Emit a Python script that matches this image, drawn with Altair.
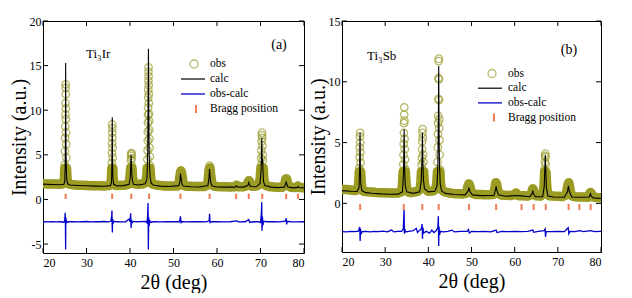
import altair as alt
import pandas as pd

# ---------------- Panel (a): Ti3Ir ----------------
a_obs_x = [20.0, 21.0, 22.0, 23.0, 24.0, 24.6, 24.85,
           24.95, 25.0, 25.05, 25.08, 25.11, 25.14, 25.17, 25.19, 25.21, 25.23, 25.25, 25.27, 25.3, 25.33, 25.37, 25.42, 25.5, 25.65, 25.9,
           26.5, 27.0, 28.0, 29.0, 30.0, 31.0, 32.0, 33.0, 34.0, 35.0, 35.5, 35.7,
           35.78, 35.82, 35.85, 35.88, 35.9, 35.92, 35.94, 35.96, 35.99, 36.02, 36.06, 36.12, 36.3, 36.6,
           37.0, 38.0, 39.0, 39.6, 39.9, 40.05, 40.15, 40.2, 40.25, 40.3, 40.35, 40.4, 40.45, 40.5, 40.6, 40.75, 41.0, 42.0, 43.0, 43.6, 43.85,
           43.95, 44.0, 44.05, 44.08, 44.1, 44.12, 44.14, 44.16, 44.18, 44.2, 44.22, 44.24, 44.26, 44.28, 44.3, 44.32, 44.34, 44.37, 44.4, 44.43, 44.47, 44.5, 44.55, 44.6, 44.7, 44.85, 45.1,
           46.0, 47.0, 48.0, 49.0, 50.0, 51.0, 51.3, 51.45, 51.6, 51.72, 51.85, 52.0, 52.2, 52.5, 53.0, 54.0, 55.0, 56.0, 57.0,
           57.8, 58.0, 58.15, 58.3, 58.4, 58.5, 58.65, 58.85, 59.3, 60.0, 61.0, 62.0, 63.0, 64.0, 64.3, 64.5, 64.7, 65.0, 66.0,
           66.9, 67.15, 67.35, 67.55, 67.8, 68.0, 69.0, 69.6, 69.9, 70.0, 70.1, 70.15, 70.2, 70.25, 70.3, 70.35, 70.4, 70.45, 70.5, 70.55, 70.62, 70.72, 70.85, 71.1,
           72.0, 73.0, 74.0, 75.0, 75.5, 75.7, 75.85, 76.0, 76.15, 76.35, 77.0, 78.0, 78.4, 78.6, 78.8, 79.0, 80.0]
a_obs_y = [1.75, 1.74, 1.72, 1.72, 1.70, 1.75, 2.2,
           2.6, 3.9, 5.4, 6.9, 8.2, 9.5, 10.8, 12.5, 12.9, 11.8, 10.2, 9.0, 7.5, 6.2, 4.7, 3.4, 2.5, 2.0, 1.75,
           1.68, 1.65, 1.6, 1.58, 1.56, 1.55, 1.55, 1.53, 1.52, 1.55, 1.6, 2.1,
           3.0, 4.1, 5.2, 6.3, 7.5, 8.4, 8.0, 6.9, 5.8, 4.7, 3.5, 2.4, 1.8, 1.6,
           1.57, 1.58, 1.62, 1.7, 2.1, 2.8, 3.6, 4.4, 4.9, 5.2, 5.1, 4.6, 3.8, 3.2, 2.5, 2.0, 1.75, 1.7, 1.75, 1.9, 2.6,
           3.5, 4.5, 5.5, 6.6, 7.6, 8.6, 9.5, 10.3, 11.4, 12.3, 13.3, 14.3, 14.8, 13.8, 12.8, 11.8, 10.8, 9.6, 8.8, 7.8, 6.8, 5.8, 4.8, 3.8, 2.8, 2.1, 1.75,
           1.62, 1.56, 1.52, 1.5, 1.5, 1.52, 1.9, 2.5, 3.0, 3.2, 3.0, 2.5, 1.9, 1.55, 1.48, 1.47, 1.46, 1.45, 1.45,
           1.6, 2.3, 3.2, 3.8, 3.6, 3.0, 2.3, 1.75, 1.5, 1.45, 1.43, 1.42, 1.41, 1.42, 1.5, 1.6, 1.5, 1.42, 1.42,
           1.55, 1.95, 2.1, 1.95, 1.6, 1.48, 1.5, 1.65, 2.2, 2.9, 3.8, 4.6, 5.5, 6.5, 7.2, 7.5, 6.9, 6.0, 5.0, 4.4, 3.5, 2.6, 2.0, 1.6,
           1.45, 1.4, 1.37, 1.36, 1.55, 2.0, 2.3, 2.3, 2.0, 1.6, 1.36, 1.34, 1.4, 1.5, 1.4, 1.33, 1.3]

a_calc_x = [20, 22, 24, 24.8, 25.0, 25.1, 25.17, 25.21, 25.25, 25.3, 25.38, 25.5, 25.7, 26.2, 28, 30, 32, 34,
            35.5, 35.75, 35.84, 35.92, 35.98, 36.06, 36.25, 37, 38.5, 39.8, 40.05, 40.18, 40.25, 40.33, 40.42, 40.55, 40.8, 42,
            43.5, 43.9, 44.08, 44.18, 44.24, 44.3, 44.36, 44.42, 44.5, 44.65, 44.9, 45.5, 47, 49,
            51.2, 51.45, 51.6, 51.75, 51.95, 52.3, 54, 56, 57.9, 58.15, 58.28, 58.4, 58.55, 58.9, 60, 62,
            64.2, 64.45, 64.7, 66, 67.1, 67.3, 67.45, 67.7, 69, 69.9, 70.15, 70.3, 70.4, 70.5, 70.58, 70.7, 71.0,
            72.5, 74, 75.5, 75.8, 75.92, 76.05, 76.3, 77.5, 78.5, 78.65, 78.8, 80]
a_calc_y = [1.72, 1.68, 1.65, 1.7, 2.0, 3.5, 8.5, 15.3, 9.0, 5.0, 3.0, 2.1, 1.75, 1.62, 1.57, 1.53, 1.5, 1.48,
            1.55, 1.9, 4.0, 9.2, 4.5, 2.4, 1.7, 1.52, 1.55, 1.7, 2.4, 4.0, 5.0, 3.9, 2.8, 2.1, 1.7, 1.62,
            1.75, 2.3, 5.5, 12.0, 16.9, 11.0, 7.0, 5.0, 3.5, 2.4, 1.8, 1.6, 1.5, 1.45,
            1.55, 1.9, 2.9, 2.4, 1.7, 1.5, 1.42, 1.4, 1.55, 2.3, 3.4, 2.6, 1.9, 1.5, 1.4, 1.38,
            1.38, 1.52, 1.4, 1.38, 1.55, 1.9, 1.7, 1.45, 1.42, 1.8, 3.5, 6.9, 4.0, 4.6, 3.0, 2.0, 1.55,
            1.38, 1.33, 1.38, 1.8, 2.0, 1.7, 1.4, 1.3, 1.35, 1.45, 1.34, 1.28]

a_diff_x = [20, 21, 22, 23, 24, 24.8, 25.0, 25.1, 25.15, 25.2, 25.25, 25.3, 25.4, 25.6, 26, 27, 28, 29, 30, 31, 32, 33, 34, 35,
            35.6, 35.8, 35.85, 35.9, 35.95, 36.0, 36.1, 36.3, 37, 38, 39, 39.5, 39.8, 40.0, 40.15, 40.25, 40.35, 40.5, 40.8,
            41.5, 42.5, 43.5, 43.9, 44.05, 44.15, 44.22, 44.3, 44.4, 44.5, 44.7, 45.5, 47, 48.5, 50,
            51.4, 51.6, 51.75, 52, 53, 54.5, 56, 57.5, 58.2, 58.3, 58.4, 58.7, 60, 61.5, 63, 64.5, 65, 66.5, 67.3, 67.5,
            68.5, 69.5, 70.0, 70.2, 70.28, 70.35, 70.45, 70.55, 70.7, 71.5, 73, 74.5, 75.8, 75.9, 76.0, 76.15, 77, 78.5, 80]
a_diff_y = [-2.5, -2.52, -2.48, -2.52, -2.5, -2.55, -2.3, -1.5, -2.6, -5.6, -2.0, -2.7, -2.4, -2.55, -2.5, -2.48, -2.52, -2.5, -2.47, -2.52, -2.5, -2.5, -2.47, -2.52,
            -2.45, -1.8, -1.25, -2.8, -3.7, -2.2, -2.7, -2.45, -2.5, -2.52, -2.5, -2.3, -2.2, -2.5, -1.55, -3.2, -2.3, -2.6, -2.45,
            -2.5, -2.48, -2.45, -2.6, -1.9, -0.4, -5.6, -2.0, -3.0, -2.3, -2.55, -2.5, -2.52, -2.5, -2.48,
            -2.5, -1.9, -2.6, -2.5, -2.52, -2.5, -2.48, -2.52, -2.4, -1.6, -2.6, -2.5, -2.5, -2.52, -2.5, -2.4, -2.52, -2.5, -2.25, -2.55,
            -2.5, -2.5, -2.6, -1.6, -0.3, -3.5, -1.9, -2.9, -2.45, -2.5, -2.5, -2.52, -2.4, -2.1, -2.8, -2.45, -2.5, -2.52, -2.5]

a_bragg = [25.2, 35.9, 40.3, 44.4, 51.6, 58.3, 64.4, 67.3, 70.4, 75.9, 78.6]

# ---------------- Panel (b): Ti3Sb ----------------
b_obs_x = [20, 21, 22, 23, 23.6, 23.85,
           23.95, 24.0, 24.05, 24.1, 24.15, 24.2, 24.23, 24.27, 24.3, 24.35, 24.42, 24.6,
           25, 26, 27, 28, 29, 30, 31, 32, 33, 33.8,
           34.0, 34.12, 34.2, 34.25, 34.3, 34.34, 34.37, 34.4, 34.43, 34.46, 34.5, 34.55, 34.6, 34.68, 34.8, 35.0,
           35.5, 36, 37, 37.6, 38.1, 38.3, 38.4, 38.45, 38.5, 38.55, 38.6, 38.64, 38.68, 38.72, 38.78, 38.85, 38.92, 39.05, 39.3,
           40, 41, 41.7, 41.95,
           42.05, 42.12, 42.18, 42.22, 42.26, 42.3, 42.33, 42.36, 42.39, 42.42, 42.45, 42.48, 42.51, 42.54, 42.58, 42.62, 42.68, 42.78, 43.0,
           43.5, 44, 45, 46, 47, 48, 48.8, 49.05, 49.25, 49.4, 49.55, 49.75, 50.0, 51, 52, 53, 54, 55,
           55.3, 55.5, 55.65, 55.8, 56.0, 56.3, 57, 58, 59, 60.0, 60.3, 60.6, 61, 62, 63, 63.8, 64.05, 64.2, 64.35, 64.6, 65, 66,
           66.6, 66.8, 66.9, 66.95, 67.0, 67.05, 67.1, 67.15, 67.2, 67.27, 67.35, 67.5, 67.8, 68, 69, 70, 71,
           71.9, 72.2, 72.4, 72.55, 72.7, 72.9, 73.3, 74, 75, 76, 77, 77.35, 77.55, 77.75, 78.0, 79, 80]
b_obs_y = [1.15, 1.15, 1.1, 1.05, 1.1, 1.6,
           2.1, 2.9, 3.8, 4.6, 5.5, 5.8, 5.0, 4.2, 3.35, 2.5, 1.8, 1.2,
           1.0, 0.95, 0.93, 0.9, 0.88, 0.87, 0.86, 0.85, 0.86, 0.95,
           1.5, 2.4, 3.2, 4.0, 4.9, 5.8, 6.6, 7.3, 7.9, 6.8, 5.3, 4.45, 3.6, 2.8, 1.8, 1.1,
           0.92, 0.9, 0.95, 1.0, 1.2, 1.8, 2.6, 3.2, 3.75, 4.45, 5.1, 5.8, 6.1, 5.4, 4.0, 3.4, 2.6, 1.8, 1.2,
           1.0, 1.02, 1.15, 1.6,
           2.2, 3.4, 4.6, 5.7, 6.6, 7.2, 8.6, 10.3, 11.7, 11.9, 10.2, 8.5, 6.9, 6.2, 5.2, 4.0, 2.8, 1.8, 1.2,
           1.0, 0.92, 0.85, 0.8, 0.8, 0.78, 0.85, 1.2, 1.5, 1.6, 1.5, 1.2, 0.85, 0.73, 0.72, 0.7, 0.7, 0.72,
           0.95, 1.4, 1.7, 1.6, 1.2, 0.8, 0.68, 0.66, 0.65, 0.72, 0.85, 0.72, 0.63, 0.62, 0.6, 0.7, 1.0, 1.2, 1.1, 0.75, 0.62, 0.6,
           0.8, 1.4, 2.2, 2.8, 3.4, 3.9, 4.1, 3.8, 3.2, 2.5, 1.8, 1.1, 0.7, 0.63, 0.6, 0.58, 0.56,
           0.7, 1.2, 1.6, 1.7, 1.4, 0.95, 0.62, 0.55, 0.53, 0.52, 0.5, 0.7, 0.9, 0.82, 0.55, 0.48, 0.46]

b_calc_x = [20, 22, 23.5, 23.95, 24.08, 24.18, 24.25, 24.35, 24.6, 25.5, 27, 29, 31, 33,
            34.0, 34.25, 34.4, 34.5, 34.65, 35, 36.5, 38.0, 38.35, 38.55, 38.63, 38.72, 38.85, 39.1, 40, 41.5,
            42.0, 42.2, 42.32, 42.4, 42.48, 42.58, 42.75, 43.1, 44, 46, 48.5, 49.2, 49.4, 49.6, 50.2, 52,
            55.2, 55.55, 55.7, 55.85, 56.3, 58, 60.3, 61.6, 63.5, 64.05, 64.2, 64.35, 64.8, 66.5,
            66.85, 67.0, 67.1, 67.2, 67.35, 67.7, 69, 71.5, 72.25, 72.45, 72.65, 73.2, 75.0, 77.3, 77.55, 77.75, 78.2, 80]
b_calc_y = [1.05, 1.0, 0.98, 1.3, 2.8, 5.8, 3.0, 1.6, 1.05, 0.88, 0.83, 0.78, 0.75, 0.76,
            0.95, 2.5, 6.1, 3.0, 1.5, 0.95, 0.82, 0.95, 1.8, 3.8, 5.8, 3.7, 2.0, 1.2, 0.95, 1.0,
            1.4, 3.0, 6.5, 11.3, 6.0, 3.2, 1.6, 1.0, 0.82, 0.73, 0.7, 1.0, 1.3, 1.0, 0.7, 0.64,
            0.66, 1.1, 1.4, 1.1, 0.68, 0.58, 0.65, 0.62, 0.55, 0.8, 1.05, 0.8, 0.55, 0.55,
            1.4, 3.0, 4.0, 2.8, 1.3, 0.6, 0.52, 0.5, 0.95, 1.45, 1.0, 0.52, 0.5, 0.52, 0.78, 0.6, 0.45, 0.4]

b_diff_x = [20, 21, 22, 23, 23.8, 24.05, 24.12, 24.2, 24.3, 24.4, 24.7, 25.5, 26.5, 27.5, 28.5, 29.5, 30.5, 31.5, 32, 33, 33.8,
            34.2, 34.38, 34.45, 34.55, 34.7, 35.5, 36.5, 37.2, 37.5, 38.0, 38.4, 38.55, 38.65, 38.75, 38.9, 39.5, 40.3, 40.8, 41.3, 41.8,
            42.2, 42.32, 42.4, 42.48, 42.58, 42.8, 43.5, 44.5, 45.5, 46, 47.5, 49.0, 49.3, 49.5, 50, 51.5, 53, 54.5, 55.7, 55.9, 57,
            58.5, 60, 61.5, 63, 64.2, 64.4, 65.5, 66.8, 67.05, 67.15, 67.3, 68.5, 70, 71.5, 72.4, 72.55, 72.8, 74, 75, 76, 77.6, 78.5, 80]
b_diff_y = [-2.32, -2.35, -2.3, -2.33, -2.28, -2.0, -1.95, -3.1, -2.1, -2.5, -2.32, -2.3, -2.35, -2.3, -2.33, -2.28, -2.35, -2.2, -2.35, -2.3, -2.3,
            -2.1, -0.5, -2.5, -2.1, -2.35, -2.3, -2.25, -2.05, -2.4, -2.2, -2.1, -1.7, -2.9, -2.0, -2.45, -2.3, -2.45, -2.2, -2.4, -2.25,
            -2.0, -1.05, -3.5, -1.9, -2.6, -2.3, -2.35, -2.3, -2.2, -2.35, -2.3, -2.3, -2.15, -2.45, -2.3, -2.33, -2.3, -2.35, -2.2, -2.4, -2.3,
            -2.33, -2.3, -2.32, -2.3, -2.2, -2.38, -2.3, -2.25, -2.1, -2.75, -2.3, -2.32, -2.3, -2.33, -2.0, -2.5, -2.3, -2.32, -2.25, -2.33, -2.25, -2.32, -2.3]

b_bragg = [24.2, 34.3, 38.6, 42.4, 49.4, 55.7, 61.6, 64.4, 67.2, 72.5, 75.0, 77.6]

X_TICKS = [20, 30, 40, 50, 60, 70, 80]
A_Y_TICKS = [-5, 0, 5, 10, 15, 20]
B_Y_TICKS = [0, 5, 10, 15]
LEGEND_LABELS = ["obs", "calc", "obs-calc", "Bragg position"]

FONT = "Liberation Serif"
OLIVE_BAND = "#9b9b1a"
OLIVE_PT = "#9c9c2e"
BRAGG_C = "#f07d55"
BLUE = "#0000cc"


def panel(obs_x, obs_y, calc_x, calc_y, diff_x, diff_y, bragg, bragg_lo, bragg_hi,
          ydom, yticks, cap, W, H, tag, tag_xy, comp, comp_xy, leg):
    xs = alt.Scale(domain=[20, 80], nice=False, zero=False)
    ys = alt.Scale(domain=ydom, nice=False, zero=False)
    xax = alt.Axis(values=X_TICKS, title="2θ (deg)", labelExpr="'' + datum.value",
                   labelPadding=4, titlePadding=4, labelFont=FONT, titleFont=FONT)
    yax = alt.Axis(values=yticks, title="Intensity (a.u.)", labelExpr="'' + datum.value",
                   labelPadding=2, titlePadding=0, minExtent=14, maxExtent=14,
                   labelFont=FONT, titleFont=FONT)

    def X(f):
        return alt.X(f, type="quantitative", scale=xs, axis=xax)

    def Y(f):
        return alt.Y(f, type="quantitative", scale=ys, axis=yax)

    obs = pd.DataFrame({"x": obs_x, "y": obs_y})
    calc = pd.DataFrame({"x": calc_x, "y": calc_y})
    diff = pd.DataFrame({"x": diff_x, "y": diff_y})
    br = pd.DataFrame({"x": bragg, "y": [bragg_lo] * len(bragg), "y2": [bragg_hi] * len(bragg)})
    xt = pd.DataFrame({"x": X_TICKS})
    yt = pd.DataFrame({"y": yticks})
    one = pd.DataFrame({"k": [0]})

    band = alt.Chart(obs).transform_calculate(yb=f"min(datum.y, {cap})").mark_line(
        color=OLIVE_BAND, strokeWidth=9.5, strokeCap="round", strokeJoin="round", clip=True
    ).encode(x=X("x"), y=Y("yb"))
    pts = alt.Chart(obs).mark_point(
        shape="circle", filled=False, size=56, strokeWidth=1.3, color=OLIVE_PT, clip=True
    ).encode(x=X("x"), y=Y("y"))
    calc_l = alt.Chart(calc).mark_line(color="black", strokeWidth=1.1, clip=True).encode(x=X("x"), y=Y("y"))
    diff_l = alt.Chart(diff).mark_line(color=BLUE, strokeWidth=1.3, clip=True).encode(x=X("x"), y=Y("y"))
    br_l = alt.Chart(br).mark_rule(color=BRAGG_C, strokeWidth=2).encode(x=X("x"), y=Y("y"), y2="y2")

    tk = 5
    xt_top = alt.Chart(xt).mark_rule(color="black").encode(x=X("x"), y=alt.value(0), y2=alt.value(tk))
    xt_bot = alt.Chart(xt).mark_rule(color="black").encode(x=X("x"), y=alt.value(H), y2=alt.value(H - tk))
    yt_l = alt.Chart(yt).mark_rule(color="black").encode(y=Y("y"), x=alt.value(0), x2=alt.value(tk))
    yt_r = alt.Chart(yt).mark_rule(color="black").encode(y=Y("y"), x=alt.value(W), x2=alt.value(W - tk))

    tag_t = alt.Chart(one).mark_text(text=tag, font=FONT, fontSize=14, align="center", baseline="middle",
                                     color="black").encode(x=alt.value(tag_xy[0]), y=alt.value(tag_xy[1]))
    comp_t = alt.Chart(one).mark_text(text=comp, font=FONT, fontSize=13, align="left", baseline="middle",
                                      color="black").encode(x=alt.value(comp_xy[0]), y=alt.value(comp_xy[1]))

    sx, lx0, lx1, tx, ty0, dy = leg
    legend_layers = [
        alt.Chart(one).mark_point(shape="circle", filled=False, size=64, strokeWidth=1.3, color=OLIVE_PT)
        .encode(x=alt.value(sx), y=alt.value(ty0)),
        alt.Chart(one).mark_rule(color="black", strokeWidth=1.2)
        .encode(x=alt.value(lx0), x2=alt.value(lx1), y=alt.value(ty0 + dy)),
        alt.Chart(one).mark_rule(color=BLUE, strokeWidth=1.3)
        .encode(x=alt.value(lx0), x2=alt.value(lx1), y=alt.value(ty0 + 2 * dy)),
        alt.Chart(one).mark_rule(color=BRAGG_C, strokeWidth=2)
        .encode(x=alt.value(sx + 2), y=alt.value(ty0 + 3 * dy - 4), y2=alt.value(ty0 + 3 * dy + 4)),
    ]
    for i, lab in enumerate(LEGEND_LABELS):
        legend_layers.append(
            alt.Chart(one).mark_text(text=lab, font=FONT, fontSize=11.5, align="left", baseline="middle",
                                     color="black")
            .encode(x=alt.value(tx), y=alt.value(ty0 + i * dy))
        )

    return alt.layer(band, pts, calc_l, diff_l, br_l, xt_top, xt_bot, yt_l, yt_r,
                     tag_t, comp_t, *legend_layers).properties(width=W, height=H)


left = panel(a_obs_x, a_obs_y, a_calc_x, a_calc_y, a_diff_x, a_diff_y, a_bragg, 0.05, 0.65,
             [-6, 20], A_Y_TICKS, 3.5, 261, 232, "(a)", (236, 24), "Ti₃Ir", (43, 33),
             (151, 138, 162, 167, 43, 15))
right = panel(b_obs_x, b_obs_y, b_calc_x, b_calc_y, b_diff_x, b_diff_y, b_bragg, -0.05, -0.55,
              [-4, 15], B_Y_TICKS, 2.6, 259, 231, "(b)", (227, 29), "Ti₃Sb", (25, 35),
              (150, 136, 160, 166, 52.5, 14.7))

chart = alt.hconcat(left, right, spacing=38, bounds="flush").properties(
    padding={"left": 0, "top": 6, "right": 0, "bottom": 0}
).configure_view(stroke="black", strokeWidth=1).configure_axis(
    domain=False, ticks=False, grid=False,
    labelFontSize=12, labelColor="black",
    titleFontSize=20, titleFontWeight="normal", titleColor="black"
)

chart.save("out.html", embed_options={"renderer": "svg", "actions": False})
